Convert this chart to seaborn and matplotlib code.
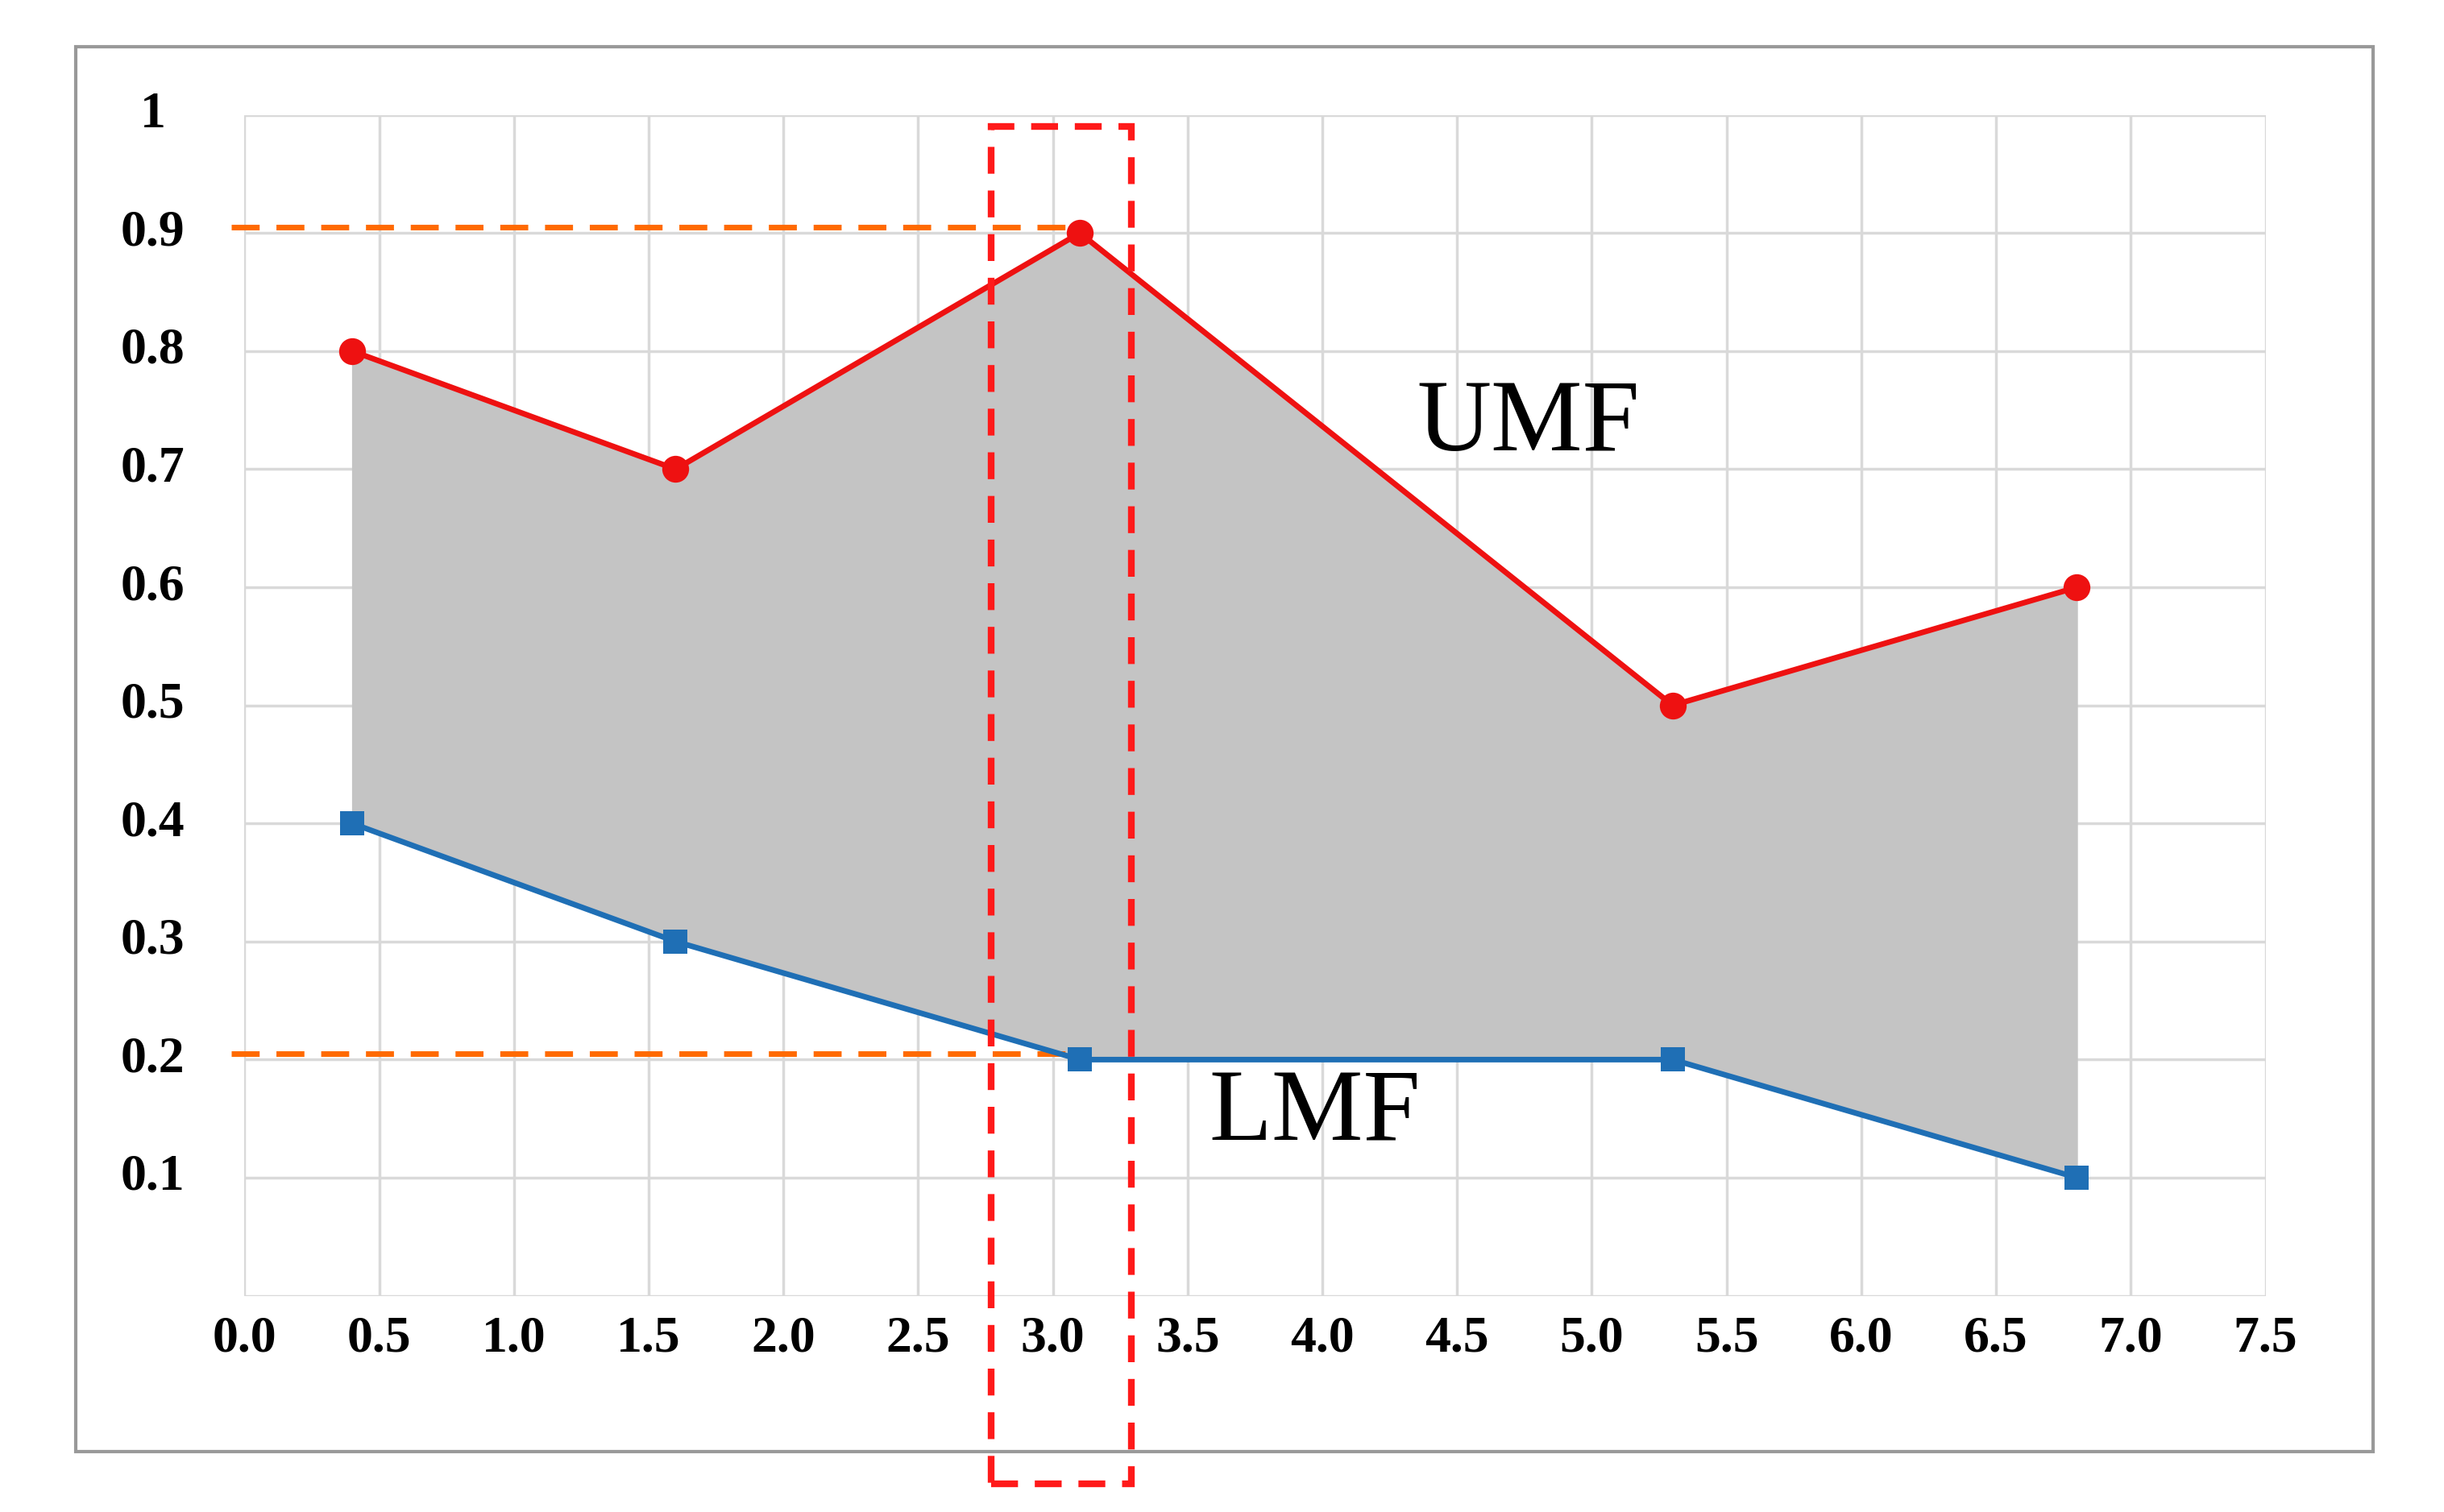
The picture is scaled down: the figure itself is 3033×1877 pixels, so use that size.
import matplotlib
matplotlib.use("Agg")
import matplotlib.pyplot as plt
import seaborn as sns
import pandas as pd
from matplotlib.patches import Rectangle

x_vals = [0.4, 1.6, 3.1, 5.3, 6.8]
umf = [0.8, 0.7, 0.9, 0.5, 0.6]
lmf = [0.4, 0.3, 0.2, 0.2, 0.1]
x_ticks = [0.0, 0.5, 1.0, 1.5, 2.0, 2.5, 3.0, 3.5, 4.0, 4.5, 5.0, 5.5, 6.0, 6.5, 7.0, 7.5]
y_ticks = [0.1, 0.2, 0.3, 0.4, 0.5, 0.6, 0.7, 0.8, 0.9, 1.0]
y_labels = ["0.1", "0.2", "0.3", "0.4", "0.5", "0.6", "0.7", "0.8", "0.9", "1"]

sns.set_style("white")
plt.rcParams['font.family'] = ['Liberation Serif', 'DejaVu Serif']
plt.rcParams['text.color'] = 'black'
plt.rcParams['xtick.color'] = 'black'

df = pd.DataFrame({"x": x_vals, "UMF": umf, "LMF": lmf})

fig = plt.figure(figsize=(30.33, 18.77), dpi=100)
fig.patches.append(Rectangle((0.031, 0.04), 0.94, 0.929, transform=fig.transFigure,
                             fill=False, edgecolor="#999999", lw=3))
ax = fig.add_axes([0.1, 0.143, 0.827, 0.781])
ax.set_xlim(0, 7.5)
ax.set_ylim(0, 1)
ax.set_xticks(x_ticks)
ax.set_yticks([0] + y_ticks)
ax.grid(True, color="#d9d9d9", lw=2.5)
for s in ax.spines.values():
    s.set_visible(False)
ax.tick_params(length=0)
ax.set_xticklabels([f"{t:.1f}" for t in x_ticks], fontsize=46, fontweight="bold", color="black")
ax.set_yticklabels([])
ax.tick_params(axis="x", pad=18)
for yv, lab in zip(y_ticks, y_labels):
    ax.text(-0.34, yv, lab, ha="center", va="center", fontsize=46, fontweight="bold",
            color="black", clip_on=False)

ax.fill_between(df["x"], df["LMF"], df["UMF"], color="#c4c4c4", zorder=2)
sns.lineplot(data=df, x="x", y="UMF", ax=ax, color="#ee1111", lw=5, marker="o",
             markersize=24, markeredgewidth=0, zorder=4)
sns.lineplot(data=df, x="x", y="LMF", ax=ax, color="#1f6fb5", lw=5, marker="s",
             markersize=22, markeredgewidth=0, zorder=4)
ax.set_xlabel("")
ax.set_ylabel("")

ax.plot([-0.05, 3.1], [0.905, 0.905], color="#ff6a00", lw=5, ls=(0, (5, 3)), clip_on=False, zorder=3)
ax.plot([-0.05, 3.1], [0.205, 0.205], color="#ff6a00", lw=5, ls=(0, (5, 3)), clip_on=False, zorder=3)
ax.add_patch(Rectangle((2.77, -0.159), 0.52, 1.149, fill=False, edgecolor="#ff1a1a",
                       lw=6, ls=(0, (4, 2.5)), clip_on=False, zorder=5))

ax.text(4.35, 0.737, "UMF", fontsize=92, va="center", ha="left", color="black", zorder=6)
ax.text(3.58, 0.153, "LMF", fontsize=92, va="center", ha="left", color="black", zorder=6)

fig.savefig("out.png", dpi=100)
